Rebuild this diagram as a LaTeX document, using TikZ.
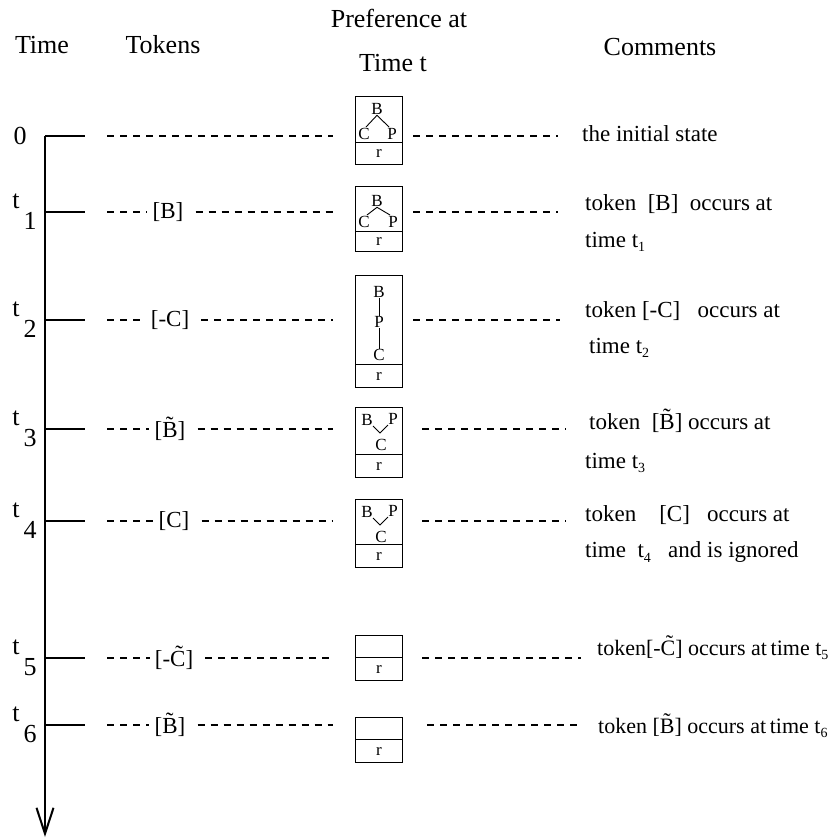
\documentclass[tikz,border=0pt]{standalone}
\usepackage{fontspec}
\setmainfont{Liberation Serif}
\usetikzlibrary{arrows.meta}
\newcommand\sbt[1]{\raisebox{-0.45ex}{\fontsize{14}{14}\selectfont #1}}
\begin{document}
\begin{tikzpicture}[x=1pt,y=-1pt,
  hdr/.style={font=\fontsize{26}{28}\selectfont, inner sep=0pt},
  tlab/.style={font=\fontsize{26}{26}\selectfont, inner sep=0pt},
  tok/.style={font=\fontsize{23}{23}\selectfont, inner ysep=2pt, inner xsep=5pt},
  cmt/.style={font=\fontsize{23}{23}\selectfont, inner sep=0pt, anchor=west},
  cmts/.style={font=\fontsize{22}{22}\selectfont, inner sep=0pt, anchor=west},
  cell/.style={draw, line width=1.4pt, minimum width=47pt, inner sep=0pt, anchor=north},
  let/.style={font=\fontsize{17}{17}\selectfont, inner sep=0.5pt},
  dsh/.style={dash pattern=on 7pt off 6pt, line width=1.2pt},
  tick/.style={line width=2.6pt},
  axis/.style={line width=2pt},
  tree/.style={line width=0.9pt}
]
\useasboundingbox (0,0) rectangle (838,839);

% headers
\node[hdr] (hTime) at (42,45) {Time};
\node[hdr] (hTok) at (163,45) {Tokens};
\node[hdr] (hPref) at (399,18) {Preference at};
\node[hdr] (hPref2) at (393,63) {Time t};
\node[hdr] (hCom) at (660,47) {Comments};

% time axis
\coordinate (a0) at (45,136);
\coordinate (a1) at (45,212);
\coordinate (a2) at (45,320);
\coordinate (a3) at (45,429);
\coordinate (a4) at (45,521);
\coordinate (a5) at (45,658);
\coordinate (a6) at (45,725);
\coordinate (aend) at (45,837);
\draw[axis, -{Straight Barb[length=26pt,width=17pt,line width=2pt]}] (a0) -- (aend);
\foreach \i in {0,...,6} { \draw[tick] (a\i) -- ++(40,0) coordinate (e\i); }

% time labels
\node[tlab] (l0) at (20,136) {0};
\node[tlab] (l1t) at (16,201) {t};  \node[tlab] (l1n) at (30,221) {1};
\node[tlab] (l2t) at (16,309) {t};  \node[tlab] (l2n) at (30,329) {2};
\node[tlab] (l3t) at (16,418) {t};  \node[tlab] (l3n) at (30,438) {3};
\node[tlab] (l4t) at (16,510) {t};  \node[tlab] (l4n) at (30,530) {4};
\node[tlab] (l5t) at (16,647) {t};  \node[tlab] (l5n) at (30,667) {5};
\node[tlab] (l6t) at (16,714) {t};  \node[tlab] (l6n) at (30,734) {6};

% boxes
\node[cell, minimum height=46pt] (b0u) at (379,96) {};
\node[cell, minimum height=22pt] (b0l) at (379,142) {};
\node[cell, minimum height=45pt] (b1u) at (379,186) {};
\node[cell, minimum height=20pt] (b1l) at (379,231) {};
\node[cell, minimum height=89pt] (b2u) at (379,275) {};
\node[cell, minimum height=23pt] (b2l) at (379,364) {};
\node[cell, minimum height=47pt] (b3u) at (379,407) {};
\node[cell, minimum height=23pt] (b3l) at (379,454) {};
\node[cell, minimum height=45pt] (b4u) at (379,499) {};
\node[cell, minimum height=23pt] (b4l) at (379,544) {};
\node[cell, minimum height=22pt] (b5u) at (379,635) {};
\node[cell, minimum height=23pt] (b5l) at (379,657) {};
\node[cell, minimum height=22pt] (b6u) at (379,717) {};
\node[cell, minimum height=23pt] (b6l) at (379,739) {};
\foreach \i in {0,...,6} { \node[let] (r\i) at (b\i l.center) {r}; }

% box contents
\node[let] (b0B) at (377,109) {B};
\node[let] (b0C) at (364,134) {C};
\node[let] (b0P) at (392,134) {P};
\draw[tree] (b0B.south) -- (366,127);
\draw[tree] (b0B.south) -- (389,127);

\node[let] (b1B) at (377,201) {B};
\node[let] (b1C) at (364,222) {C};
\node[let] (b1P) at (393,222) {P};
\draw[tree] (b1B.south) -- (367,215);
\draw[tree] (b1B.south) -- (390,215);

\node[let] (b2B) at (379,292) {B};
\node[let] (b2P) at (379,322) {P};
\node[let] (b2C) at (379,355) {C};
\draw[tree] (b2B.south) -- (b2P.north);
\draw[tree] (b2P.south) -- (b2C.north);

\node[let] (b3B) at (367,420) {B};
\node[let] (b3P) at (393,419) {P};
\node[let] (b3C) at (381,445) {C};
\draw[tree] (373,426) -- (380,433) -- (388,425);

\node[let] (b4B) at (367,512) {B};
\node[let] (b4P) at (393,511) {P};
\node[let] (b4C) at (381,537) {C};
\draw[tree] (373,518) -- (380,525) -- (388,517);

% tokens
\coordinate (s0) at (107,136);
\node[tok] (k1) at (168,212) {[B]};
\node[tok] (k2) at (170,320) {[-C]};
\node[tok] (k3) at (170,429) {[\~{B}]};
\node[tok] (k4) at (174,521) {[C]};
\node[tok] (k5) at (174,658) {[-\~{C}]};
\node[tok] (k6) at (170,725) {[\~{B}]};
\draw[dsh, shorten >=22pt] (s0) -- (s0 -| b0u.west);
\foreach \i/\y in {1/212,2/320,3/429,4/521,5/658,6/725} {
  \coordinate (s\i) at (107,\y);
  \draw[dsh] (s\i) -- (k\i.west);
  \draw[dsh, shorten <=7pt, shorten >=22pt] (k\i.east) -- (k\i.east -| b\i u.west);
}

% comments
\node[cmt] (c0) at (582,134) {the initial state};
\node[cmt] (c1a) at (585,204) {token\ \ [B]\ \ occurs at};
\node[cmt] (c1b) at (585,242) {time t\sbt{1}};
\node[cmt] (c2a) at (585,311) {token [-C]\ \ \ occurs at};
\node[cmt] (c2b) at (589,348) {time t\sbt{2}};
\node[cmt] (c3a) at (589,421) {token\ \ [\~{B}] occurs at};
\node[cmt] (c3b) at (585,463) {time t\sbt{3}};
\node[cmt] (c4a) at (585,515) {token\ \ \ \ [C]\ \ \ occurs at};
\node[cmt] (c4b) at (585,552) {time\ \ t\sbt{4}\ \ \ and is ignored};
\node[cmts] (c5) at (597,648) {token[-\~{C}]\ occurs at\,time t\sbt{5}};
\node[cmts] (c6) at (598,726) {token [\~{B}]\ occurs at\,time t\sbt{6}};

% right dashes
\coordinate (d0) at (558,136);
\coordinate (d1) at (558,212);
\coordinate (d2) at (560,320);
\coordinate (d3) at (566,429);
\coordinate (d4) at (566,521);
\coordinate (d5) at (581,658);
\coordinate (d6) at (579,725);
\draw[dsh, shorten <=10pt] (b0u.east |- d0) -- (d0);
\draw[dsh, shorten <=10pt] (b1u.east |- d1) -- (d1);
\draw[dsh, shorten <=10pt] (b2u.east |- d2) -- (d2);
\draw[dsh, shorten <=19pt] (b3u.east |- d3) -- (d3);
\draw[dsh, shorten <=19pt] (b4u.east |- d4) -- (d4);
\draw[dsh, shorten <=19pt] (b5u.east |- d5) -- (d5);
\draw[dsh, shorten <=24pt] (b6u.east |- d6) -- (d6);
\end{tikzpicture}
\end{document}
